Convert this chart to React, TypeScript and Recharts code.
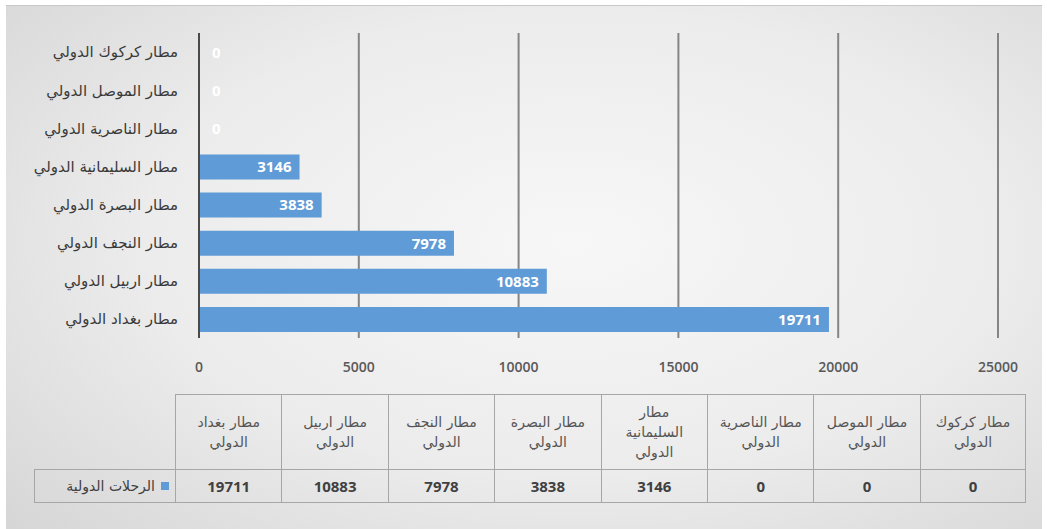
import React from 'react';
import { BarChart, Bar, XAxis, YAxis, CartesianGrid, LabelList } from 'recharts';

// airports, top to bottom as drawn in the chart
const airports = [
  'مطار كركوك الدولي',
  'مطار الموصل الدولي',
  'مطار الناصرية الدولي',
  'مطار السليمانية الدولي',
  'مطار البصرة الدولي',
  'مطار النجف الدولي',
  'مطار اربيل الدولي',
  'مطار بغداد الدولي',
];
const flights = [0, 0, 0, 3146, 3838, 7978, 10883, 19711];
const xTicks = [0, 5000, 10000, 15000, 20000, 25000];
const seriesName = 'الرحلات الدولية';

const arabicFont = '"DejaVu Sans", "Noto Sans", sans-serif';
const numFont = '"Open Sans", "Noto Sans", sans-serif';
const barColor = '#5f9bd6';

const data = airports.map((name, i) => ({ name, value: flights[i] }));
// table runs the other way: Baghdad first
const tableRows = [...data].reverse();

const renderValue = (props: any) => {
  const { x, y, width, height, value } = props;
  const small = width < 24;
  return (
    <text
      x={small ? x + 13 : x + width - 8}
      y={y + height / 2}
      dy="0.36em"
      textAnchor={small ? 'start' : 'end'}
      fill="#fff"
      fontFamily={numFont}
      fontWeight={700}
      fontSize={15}
    >
      {value}
    </text>
  );
};

const renderCategory = (props: any) => {
  const { x, y, payload } = props;
  return (
    <text x={x - 13} y={y} dy="0.36em" textAnchor="end" fill="#3a3a3a" fontFamily={arabicFont} fontSize={15}>
      {payload.value}
    </text>
  );
};

const renderTick = (props: any) => {
  const { x, y, payload } = props;
  return (
    <text x={x} y={y + 26} textAnchor="middle" fill="#595959" fontFamily={numFont} fontWeight={600} fontSize={14}>
      {payload.value}
    </text>
  );
};

const tableLeft = 175;
const colW = 106.4;
const headTop = 394;
const headH = 75;
const rowH = 34;
const lineColor = '#a6a6a6';

export default function App() {
  return (
    <div style={{ position: 'absolute', left: 0, top: 0, width: 1047, height: 529, background: '#fff', overflow: 'hidden' }}>
      <div
        style={{
          position: 'absolute',
          left: 6,
          top: 5,
          width: 1036,
          height: 524,
          borderTop: '1px solid #c8c8c8',
          background: 'radial-gradient(ellipse 75% 80% at 55% 45%, #f7f7f7 0%, #ececec 55%, #d6d6d6 100%)',
        }}
      />
      <div style={{ position: 'absolute', left: 0, top: 0 }}>
        <BarChart
          width={1047}
          height={390}
          data={data}
          layout="vertical"
          margin={{ top: 33, right: 49, bottom: 12, left: 0 }}
        >
          <CartesianGrid horizontal={false} stroke="#858585" strokeWidth={2} />
          <XAxis
            type="number"
            domain={[0, 25000]}
            ticks={xTicks}
            axisLine={false}
            tickLine={false}
            height={40}
            tick={renderTick}
          />
          <YAxis
            type="category"
            dataKey="name"
            width={199}
            axisLine={{ stroke: '#4a4a4a', strokeWidth: 2 }}
            tickLine={false}
            tick={renderCategory}
          />
          <Bar dataKey="value" fill={barColor} barSize={25} minPointSize={1} isAnimationActive={false}>
            <LabelList dataKey="value" content={renderValue} />
          </Bar>
        </BarChart>
      </div>

      {/* data table */}
      {tableRows.map((r, i) => (
        <React.Fragment key={r.name}>
          <div
            style={{
              position: 'absolute',
              left: tableLeft + i * colW,
              top: headTop,
              width: colW,
              height: headH,
              boxSizing: 'border-box',
              borderTop: `1px solid ${lineColor}`,
              borderLeft: `1px solid ${lineColor}`,
              borderRight: i === tableRows.length - 1 ? `1px solid ${lineColor}` : 'none',
              display: 'flex',
              alignItems: 'center',
              justifyContent: 'center',
              textAlign: 'center',
              direction: 'rtl',
              fontFamily: arabicFont,
              fontSize: 14,
              lineHeight: '20px',
              color: '#555',
              padding: '0 8px',
            }}
          >
            {r.name}
          </div>
          <div
            style={{
              position: 'absolute',
              left: tableLeft + i * colW,
              top: headTop + headH,
              width: colW,
              height: rowH,
              boxSizing: 'border-box',
              borderTop: `1px solid ${lineColor}`,
              borderBottom: `1px solid ${lineColor}`,
              borderLeft: `1px solid ${lineColor}`,
              borderRight: i === tableRows.length - 1 ? `1px solid ${lineColor}` : 'none',
              display: 'flex',
              alignItems: 'center',
              justifyContent: 'center',
              fontFamily: numFont,
              fontWeight: 700,
              fontSize: 15,
              color: '#404040',
            }}
          >
            {r.value}
          </div>
        </React.Fragment>
      ))}
      <div
        style={{
          position: 'absolute',
          left: 34,
          top: headTop + headH,
          width: tableLeft - 34,
          height: rowH,
          boxSizing: 'border-box',
          borderTop: `1px solid ${lineColor}`,
          borderBottom: `1px solid ${lineColor}`,
          borderLeft: `1px solid ${lineColor}`,
          display: 'flex',
          alignItems: 'center',
          justifyContent: 'flex-end',
          gap: 6,
          padding: '0 6px',
          fontFamily: arabicFont,
          fontSize: 14,
          color: '#404040',
        }}
      >
        <span style={{ direction: 'rtl' }}>{seriesName}</span>
        <span style={{ width: 8, height: 8, background: barColor, display: 'inline-block' }} />
      </div>
    </div>
  );
}
